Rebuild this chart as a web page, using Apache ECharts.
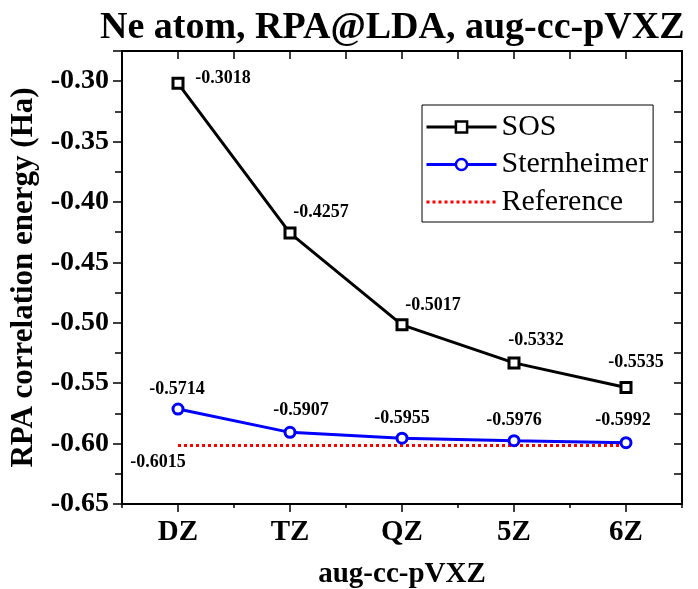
<!DOCTYPE html>
<html><head><meta charset="utf-8">
<script src="https://cdn.jsdelivr.net/npm/echarts@6/dist/echarts.min.js"></script>
<style>html,body{margin:0;padding:0;background:#fff}#c{width:698px;height:589px}</style>
</head><body><div id="c"></div>
<script>
const categories = ['DZ', 'TZ', 'QZ', '5Z', '6Z'];
const sosValues = [-0.3018, -0.4257, -0.5017, -0.5332, -0.5535];
const sternValues = [-0.5714, -0.5907, -0.5955, -0.5976, -0.5992];
const referenceValues = [-0.6015, -0.6015, -0.6015, -0.6015, -0.6015];

// label placement (style only)
const sosLabelOffsets = [[45, -5], [31, -21], [31, -20], [22, -23], [10, -25]];
const sternLabelOffsets = [[-1, -20], [11, -22], [0, -20], [0, -20], [-3, -22]];
const refLabelOffsets = [[-20, 17], null, null, null, null];

const FONT = '"Liberation Serif","Times New Roman",serif';

function withLabels(values, offsets) {
  return values.map((v, i) => {
    const o = offsets[i];
    if (!o) return { value: v, label: { show: false } };
    return { value: v, label: { show: true, offset: o } };
  });
}

const labelStyle = {
  show: true, position: 'inside', fontFamily: FONT, fontWeight: 'bold',
  fontSize: 18, color: '#000',
  formatter: p => Number(p.value).toFixed(4)
};

const chart = echarts.init(document.getElementById('c'), null, { renderer: 'canvas' });
chart.setOption({
  backgroundColor: '#fff',
  animation: false,
  title: {
    text: 'Ne atom, RPA@LDA, aug-cc-pVXZ',
    left: 100, top: 9, padding: 0,
    textStyle: { fontFamily: FONT, fontWeight: 'bold', fontSize: 38, color: '#000' }
  },
  grid: { left: 122, right: 16, top: 51, bottom: 85, containLabel: false, outerBoundsMode: 'none' },
  legend: {
    orient: 'vertical', left: 422, top: 105,
    padding: [7, 5, 5, 3],
    borderColor: '#000', borderWidth: 1, backgroundColor: '#fff',
    itemWidth: 70, itemHeight: 14, itemGap: 7.5,
    textStyle: { fontFamily: FONT, fontSize: 30, color: '#000', lineHeight: 30 },
    data: [
      { name: 'SOS', itemStyle: { color: '#fff', borderColor: '#000', borderWidth: 2.5 }, lineStyle: { color: '#000', width: 3 } },
      { name: 'Sternheimer', itemStyle: { color: '#fff', borderColor: '#0000ff', borderWidth: 2.5 }, lineStyle: { color: '#0000ff', width: 3 } },
      { name: 'Reference', itemStyle: { color: 'rgba(0,0,0,0)', borderWidth: 0, opacity: 0 }, lineStyle: { color: '#ff0000', width: 3, type: [3, 3] } }
    ]
  },
  xAxis: [
    {
      type: 'category', data: categories, position: 'bottom', boundaryGap: true,
      name: 'aug-cc-pVXZ', nameLocation: 'middle', nameGap: 56,
      nameTextStyle: { fontFamily: FONT, fontWeight: 'bold', fontSize: 29, color: '#000' },
      axisLine: { show: true, lineStyle: { color: '#000', width: 2 } },
      axisTick: { show: true, alignWithLabel: true, length: 8, inside: false, lineStyle: { color: '#000', width: 1.5 } },
      axisLabel: { fontFamily: FONT, fontWeight: 'bold', fontSize: 29, color: '#000', margin: 14 },
      splitLine: { show: false }
    },
    {
      type: 'category', data: categories, position: 'bottom', boundaryGap: true,
      axisLine: { show: false },
      axisTick: { show: true, alignWithLabel: false, interval: 0, length: 4, inside: false, lineStyle: { color: '#000', width: 1.5 } },
      axisLabel: { show: false }, splitLine: { show: false }
    },
    {
      type: 'category', data: categories, position: 'top', boundaryGap: true,
      axisLine: { show: true, lineStyle: { color: '#000', width: 2 } },
      axisTick: { show: true, alignWithLabel: false, interval: 0, length: 8, inside: true, lineStyle: { color: '#000', width: 1.5 } },
      axisLabel: { show: false }, splitLine: { show: false }
    },
    {
      type: 'category', data: categories, position: 'top', boundaryGap: true,
      axisLine: { show: false },
      axisTick: { show: true, alignWithLabel: true, length: 8, inside: true, lineStyle: { color: '#000', width: 1.5 } },
      axisLabel: { show: false }, splitLine: { show: false }
    }
  ],
  yAxis: [
    {
      type: 'value', position: 'left', min: -0.65, max: -0.275, interval: 0.05,
      name: 'RPA correlation energy (Ha)', nameLocation: 'middle', nameGap: 74,
      nameTextStyle: { fontFamily: FONT, fontWeight: 'bold', fontSize: 31, color: '#000' },
      axisLine: { show: true, lineStyle: { color: '#000', width: 2 } },
      axisTick: { show: true, length: 9, inside: false, lineStyle: { color: '#000', width: 1.5 } },
      minorTick: { show: true, splitNumber: 2, length: 7, lineStyle: { color: '#000', width: 1.5 } },
      axisLabel: {
        fontFamily: FONT, fontWeight: 'bold', fontSize: 28, color: '#000', margin: 13,
        formatter: v => (v > -0.29 ? '' : v.toFixed(2))
      },
      splitLine: { show: false }
    },
    {
      type: 'value', position: 'right', min: -0.65, max: -0.275, interval: 0.05,
      axisLine: { show: true, lineStyle: { color: '#000', width: 2 } },
      axisTick: { show: true, length: 8, inside: true, lineStyle: { color: '#000', width: 1.5 } },
      minorTick: { show: true, splitNumber: 2, length: 8, lineStyle: { color: '#000', width: 1.5 } },
      axisLabel: { show: false }, splitLine: { show: false }
    }
  ],
  series: [
    {
      name: 'SOS', type: 'line', xAxisIndex: 0, yAxisIndex: 0,
      data: withLabels(sosValues, sosLabelOffsets),
      symbol: 'rect', symbolSize: 10,
      itemStyle: { color: '#fff', borderColor: '#000', borderWidth: 3 },
      lineStyle: { color: '#000', width: 3 },
      label: labelStyle, z: 3
    },
    {
      name: 'Sternheimer', type: 'line', xAxisIndex: 0, yAxisIndex: 0,
      data: withLabels(sternValues, sternLabelOffsets),
      symbol: 'circle', symbolSize: 10,
      itemStyle: { color: '#fff', borderColor: '#0000ff', borderWidth: 3 },
      lineStyle: { color: '#0000ff', width: 3 },
      label: labelStyle, z: 3
    },
    {
      name: 'Reference', type: 'line', xAxisIndex: 0, yAxisIndex: 0,
      data: withLabels(referenceValues, refLabelOffsets),
      symbol: 'circle', symbolSize: 1, showSymbol: true,
      itemStyle: { color: 'rgba(0,0,0,0)', borderWidth: 0 },
      lineStyle: { color: '#ff0000', width: 3, type: [3, 3] },
      label: labelStyle, z: 2
    }
  ]
});
</script>
</body></html>
